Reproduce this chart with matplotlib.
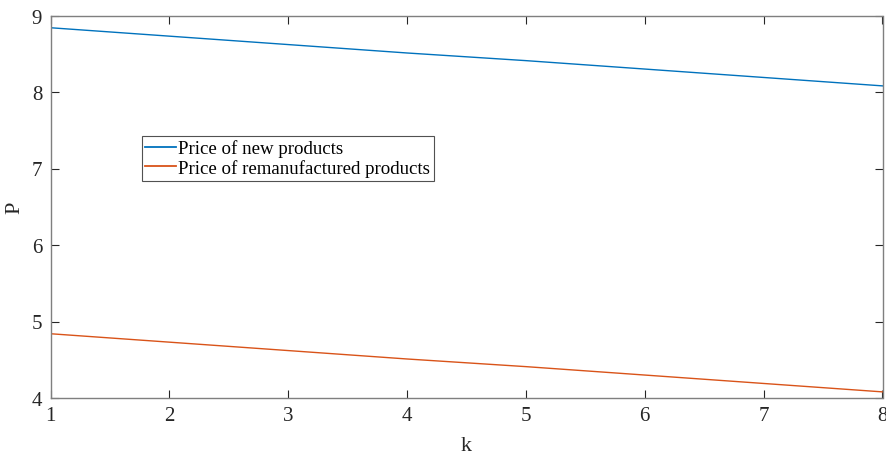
import matplotlib.pyplot as plt

# data
k = [1, 2, 3, 4, 5, 6, 7, 8]
p_new = [8.84, 8.73, 8.62, 8.51, 8.41, 8.30, 8.19, 8.08]
p_reman = [4.84, 4.73, 4.62, 4.51, 4.41, 4.30, 4.19, 4.08]
x_ticks = [1, 2, 3, 4, 5, 6, 7, 8]
y_ticks = [4, 5, 6, 7, 8, 9]

plt.rcParams['font.family'] = ['Liberation Serif', 'DejaVu Serif']
axis_gray = '#262626'

fig = plt.figure(figsize=(8.86, 4.56), dpi=100)
ax = fig.add_axes([50.5 / 886, 1 - 399 / 456, 832 / 886, 382.5 / 456])

ax.plot(k, p_new, color='#0072BD', linewidth=1.0, label='Price of new products')
ax.plot(k, p_reman, color='#D95319', linewidth=1.0, label='Price of remanufactured products')

ax.set_xlim(1, 8)
ax.set_ylim(4, 9)
ax.set_xticks(x_ticks)
ax.set_yticks(y_ticks)
ax.tick_params(direction='in', top=True, right=True, length=6, width=0.8,
               colors=axis_gray, labelsize=15, pad=6)
for s in ax.spines.values():
    s.set_color('#7f7f7f')
    s.set_linewidth(1.0)

ax.set_xlabel('k', fontsize=16, color=axis_gray, labelpad=8)
ax.set_ylabel('P', fontsize=16, color=axis_gray, labelpad=5)

leg = ax.legend(loc='upper left', bbox_to_anchor=(91 / 832, 1 - 120 / 382.5),
                fontsize=13.6, frameon=True, fancybox=False, handlelength=1.65,
                handletextpad=0.1, borderpad=0.2, labelspacing=0.1,
                borderaxespad=0)
leg.get_frame().set_edgecolor('#262626')
leg.get_frame().set_linewidth(0.8)
for line in leg.get_lines():
    line.set_linewidth(1.3)

fig.savefig('out.png', dpi=100)
